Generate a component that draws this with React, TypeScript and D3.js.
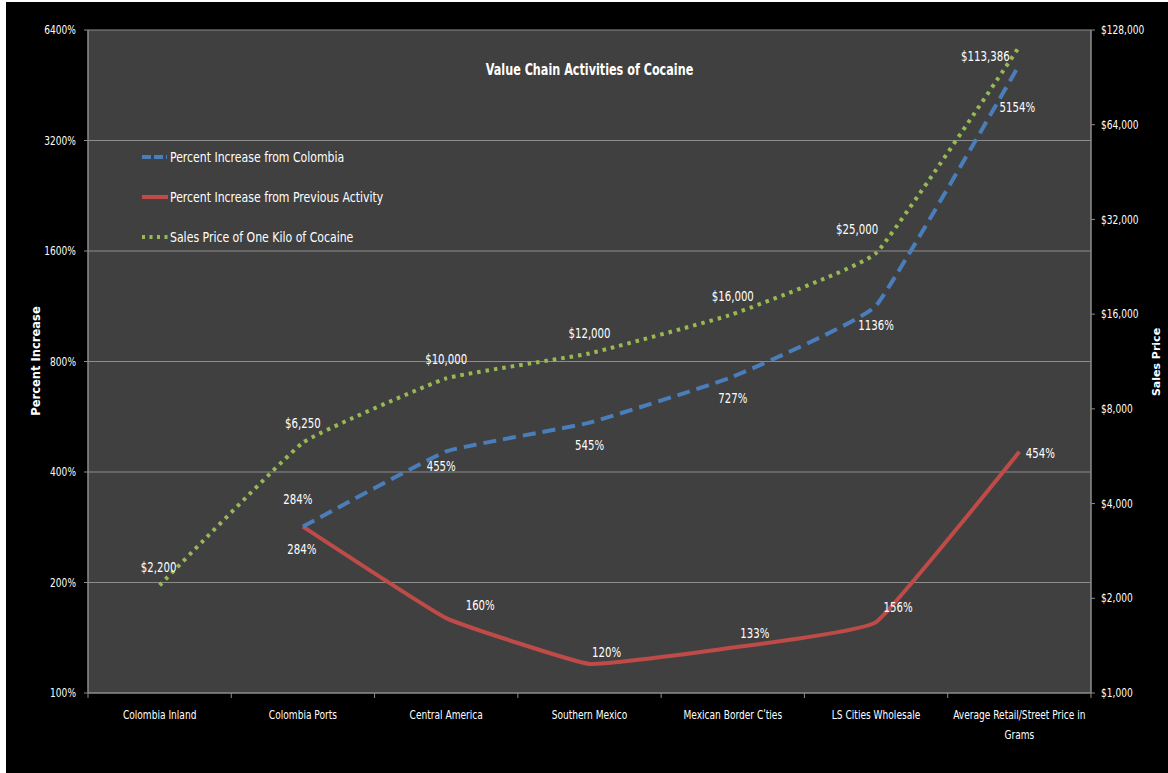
import React from 'react';
import * as d3 from 'd3';

const categories = [
  'Colombia Inland',
  'Colombia Ports',
  'Central America',
  'Southern Mexico',
  'Mexican Border C\u02b9ties',
  'LS Cities Wholesale',
  'Average Retail/Street Price in Grams',
];
const fromColombia: (number | null)[] = [null, 284, 455, 545, 727, 1136, 5154];
const fromPrevious: (number | null)[] = [null, 284, 160, 120, 133, 156, 454];
const salesPrice: number[] = [2200, 6250, 10000, 12000, 16000, 25000, 113386];
const leftTicks = [100, 200, 400, 800, 1600, 3200, 6400];
const rightTicks = [1000, 2000, 4000, 8000, 16000, 32000, 64000, 128000];

const W = 1168;
const H = 773;
const plot = { left: 88, right: 1091, top: 30, bottom: 693 };
const FONT = '"DejaVu Sans Condensed", "Liberation Sans Narrow", Arial, sans-serif';
const SX = 0.84; // squeeze text to mimic a narrow font

const BLUE = '#4a7ebb';
const RED = '#be4b48';
const GREEN = '#98b954';

// text squeezed horizontally around its own anchor point
const T: React.FC<{
  x: number;
  y: number;
  anchor?: string;
  size?: number;
  bold?: boolean;
  sx?: number;
  children: React.ReactNode;
}> = ({ x, y, anchor = 'middle', size = 12, bold = false, sx = SX, children }) => (
  <text
    transform={`translate(${x},${y}) scale(${sx},1)`}
    dy="0.35em"
    textAnchor={anchor}
    style={{ fill: '#fff', fontFamily: FONT, fontSize: size, fontWeight: bold ? 'bold' : 'normal' }}
  >
    {children}
  </text>
);

const App: React.FC = () => {
  const x = d3.scaleBand<string>().domain(categories).range([plot.left, plot.right]);
  const cx = (c: string) => (x(c) || 0) + x.bandwidth() / 2;
  const yL = d3.scaleLog().base(2).domain([100, 6400]).range([plot.bottom, plot.top]);
  const yR = d3.scaleLog().base(2).domain([1000, 128000]).range([plot.bottom, plot.top]);

  const curve = d3.curveCardinal.tension(0.7);
  const pctLine = d3
    .line<[string, number | null]>()
    .defined(d => d[1] != null)
    .x(d => cx(d[0]))
    .y(d => yL(d[1] as number))
    .curve(curve);
  const priceLine = d3
    .line<[string, number]>()
    .x(d => cx(d[0]))
    .y(d => yR(d[1]))
    .curve(curve);

  const blueD = pctLine(categories.map((c, i) => [c, fromColombia[i]]));
  const redD = pctLine(categories.map((c, i) => [c, fromPrevious[i]]));
  const greenD = priceLine(categories.map((c, i) => [c, salesPrice[i]]));

  const fmtPrice = (v: number) => '$' + d3.format(',')(v);

  // label offsets relative to the data point
  const blueOff: [number, number][] = [[0, 0], [-5, -27], [-5, 15], [0, 23], [0, 22], [0, 20], [-2, 43]];
  const redOff: [number, number][] = [[0, 0], [-1, 23], [34, -13], [17, -12], [22, -14], [22, -15], [21, 1]];
  const greenOff: [number, number][] = [[-1, -18], [0, -19], [0, -19], [0, -20], [0, -18], [-19, -24], [-34, 10]];

  return (
    <svg width={W} height={H} style={{ position: 'absolute', left: 0, top: 0, display: 'block' }}>
      <rect x={0} y={0} width={W} height={H} fill="#fff" />
      <rect x={6} y={2} width={W - 6} height={H - 2} fill="#000" />
      <rect x={plot.left} y={plot.top} width={plot.right - plot.left} height={plot.bottom - plot.top} fill="#404040" />

      {/* gridlines */}
      {leftTicks.slice(1).map(t => (
        <line key={'g' + t} x1={plot.left} x2={plot.right} y1={yL(t)} y2={yL(t)} stroke="#8c8c8c" strokeWidth={1} />
      ))}

      {/* axes */}
      <line x1={plot.left} x2={plot.left} y1={plot.top} y2={plot.bottom} stroke="#8c8c8c" strokeWidth={1.5} />
      <line x1={plot.right} x2={plot.right} y1={plot.top} y2={plot.bottom} stroke="#8c8c8c" strokeWidth={1.5} />
      <line x1={plot.left} x2={plot.right} y1={plot.bottom} y2={plot.bottom} stroke="#8c8c8c" strokeWidth={1.5} />

      {leftTicks.map(t => (
        <g key={'l' + t}>
          <line x1={plot.left - 4} x2={plot.left} y1={yL(t)} y2={yL(t)} stroke="#8c8c8c" />
          <T x={76} y={yL(t)} anchor="end">{t + '%'}</T>
        </g>
      ))}
      {rightTicks.map(t => (
        <g key={'r' + t}>
          <line x1={plot.right} x2={plot.right + 4} y1={yR(t)} y2={yR(t)} stroke="#8c8c8c" />
          <T x={1101} y={yR(t)} anchor="start">{fmtPrice(t)}</T>
        </g>
      ))}
      {categories.map((c, i) => (
        <line key={'bt' + i} x1={x(c)} x2={x(c)} y1={plot.bottom} y2={plot.bottom + 5} stroke="#8c8c8c" />
      ))}
      <line x1={plot.right} x2={plot.right} y1={plot.bottom} y2={plot.bottom + 5} stroke="#8c8c8c" />

      {categories.map((c, i) =>
        i === categories.length - 1 ? (
          <g key={'c' + i}>
            <T x={cx(c)} y={715}>Average Retail/Street Price in</T>
            <T x={cx(c)} y={735}>Grams</T>
          </g>
        ) : (
          <T key={'c' + i} x={cx(c)} y={715}>{c}</T>
        )
      )}

      {/* axis titles */}
      <text
        transform="translate(40,361) rotate(-90)"
        textAnchor="middle"
        style={{ fill: '#fff', fontFamily: '"DejaVu Sans", sans-serif', fontWeight: 'bold', fontSize: 11.5 }}
      >
        Percent Increase
      </text>
      <text
        transform="translate(1160,362) rotate(-90)"
        textAnchor="middle"
        style={{ fill: '#fff', fontFamily: '"DejaVu Sans", sans-serif', fontWeight: 'bold', fontSize: 11 }}
      >
        Sales Price
      </text>

      {/* title */}
      <T x={(plot.left + plot.right) / 2} y={69} size={16} bold sx={0.78}>
        Value Chain Activities of Cocaine
      </T>

      {/* series */}
      <path d={redD || ''} fill="none" stroke={RED} strokeWidth={4} strokeLinejoin="round" />
      <path d={blueD || ''} fill="none" stroke={BLUE} strokeWidth={4} strokeDasharray="13 7" />
      <path d={greenD || ''} fill="none" stroke={GREEN} strokeWidth={4} strokeDasharray="3.5 5" />

      {/* data labels */}
      {categories.map((c, i) =>
        fromColombia[i] == null ? null : (
          <T key={'bl' + i} x={cx(c) + blueOff[i][0]} y={yL(fromColombia[i] as number) + blueOff[i][1]} size={13.5}>
            {fromColombia[i] + '%'}
          </T>
        )
      )}
      {categories.map((c, i) =>
        fromPrevious[i] == null ? null : (
          <T key={'rl' + i} x={cx(c) + redOff[i][0]} y={yL(fromPrevious[i] as number) + redOff[i][1]} size={13.5}>
            {fromPrevious[i] + '%'}
          </T>
        )
      )}
      {categories.map((c, i) => (
        <T key={'gl' + i} x={cx(c) + greenOff[i][0]} y={yR(salesPrice[i]) + greenOff[i][1]} size={13.5}>
          {fmtPrice(salesPrice[i])}
        </T>
      ))}

      {/* legend */}
      <line x1={142} x2={167} y1={157} y2={157} stroke={BLUE} strokeWidth={4} strokeDasharray="9 3" />
      <T x={170} y={157} anchor="start" size={13.5} sx={0.9}>Percent Increase from Colombia</T>
      <line x1={142} x2={168} y1={197} y2={197} stroke={RED} strokeWidth={4} />
      <T x={170} y={197} anchor="start" size={13.5} sx={0.9}>Percent Increase from Previous Activity</T>
      <line x1={142} x2={168} y1={237} y2={237} stroke={GREEN} strokeWidth={4} strokeDasharray="3 4.5" />
      <T x={170} y={237} anchor="start" size={13.5} sx={0.9}>Sales Price of One Kilo of Cocaine</T>
    </svg>
  );
};

export default App;
